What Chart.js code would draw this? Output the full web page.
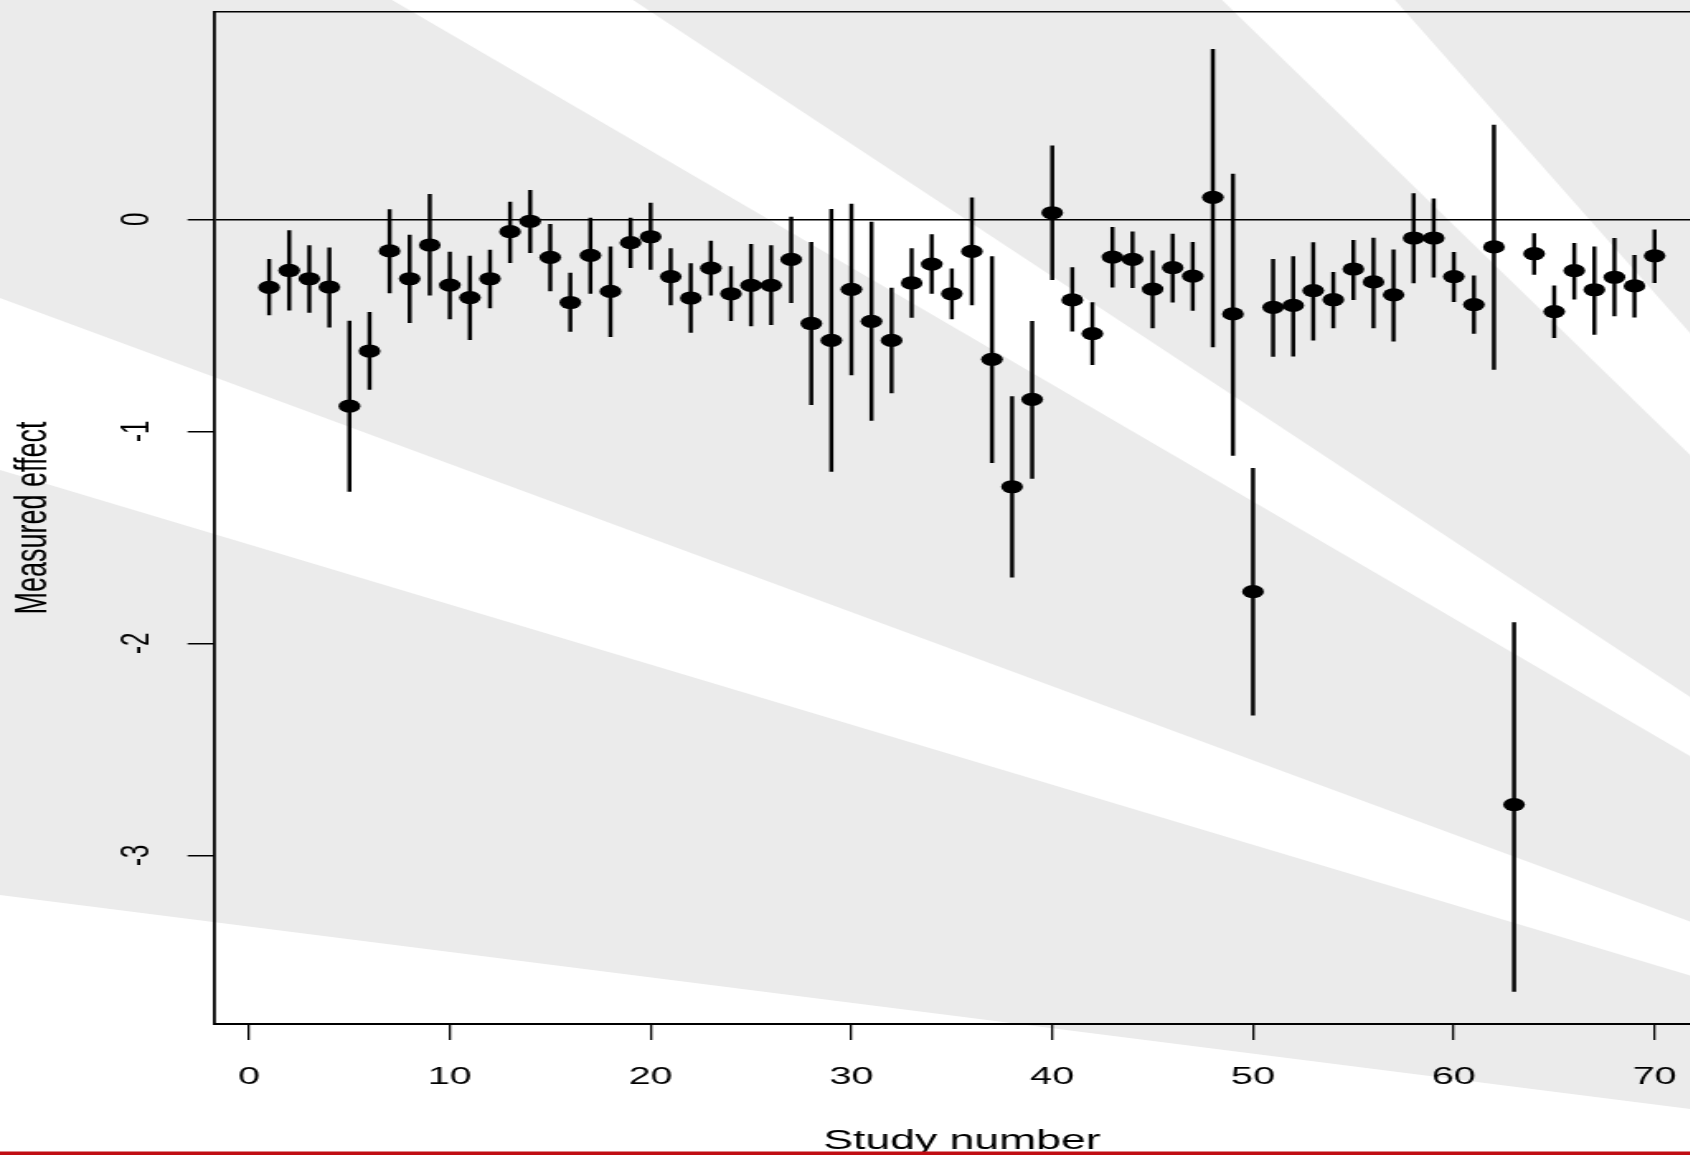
<!DOCTYPE html>
<html>
<head>
<meta charset="utf-8">
<title>Measured effect by study</title>
<script src="https://cdn.jsdelivr.net/npm/chart.js@4.4.1/dist/chart.umd.min.js"></script>
<style>
  html, body { margin: 0; padding: 0; width: 1690px; height: 1155px; overflow: hidden; background: #fff; }
  #wrap { position: absolute; left: 0; top: 0; transform-origin: 0 0; }
</style>
</head>
<body>
<div id="wrap"><canvas id="chart"></canvas></div>
<script>
// values (study, estimate, interval)
const studies = [1, 2, 3, 4, 5, 6, 7, 8, 9, 10, 11, 12, 13, 14, 15, 16, 17, 18, 19, 20,
  21, 22, 23, 24, 25, 26, 27, 28, 29, 30, 31, 32, 33, 34, 35, 36, 37, 38, 39, 40,
  41, 42, 43, 44, 45, 46, 47, 48, 49, 50, 51, 52, 53, 54, 55, 56, 57, 58, 59, 60,
  61, 62, 63, 64, 65, 66, 67, 68, 69, 70];

const effect = [-0.321, -0.241, -0.280, -0.319, -0.881, -0.621, -0.149, -0.280, -0.121, -0.310,
  -0.369, -0.280, -0.058, -0.009, -0.179, -0.392, -0.170, -0.340, -0.110, -0.082,
  -0.270, -0.371, -0.230, -0.351, -0.311, -0.311, -0.189, -0.491, -0.571, -0.330,
  -0.481, -0.571, -0.300, -0.211, -0.351, -0.151, -0.660, -1.261, -0.849, 0.031,
  -0.380, -0.539, -0.178, -0.189, -0.329, -0.228, -0.268, 0.104, -0.446, -1.756,
  -0.415, -0.406, -0.336, -0.379, -0.234, -0.295, -0.356, -0.088, -0.088, -0.270,
  -0.402, -0.130, -2.760, -0.162, -0.435, -0.242, -0.332, -0.273, -0.314, -0.172];

const ciLow = [-0.451, -0.428, -0.439, -0.508, -1.283, -0.802, -0.347, -0.487, -0.357, -0.469,
  -0.568, -0.418, -0.204, -0.157, -0.338, -0.528, -0.349, -0.553, -0.228, -0.236,
  -0.403, -0.533, -0.358, -0.478, -0.503, -0.497, -0.393, -0.874, -1.189, -0.734,
  -0.948, -0.818, -0.462, -0.349, -0.469, -0.403, -1.148, -1.687, -1.222, -0.285,
  -0.527, -0.685, -0.320, -0.322, -0.512, -0.390, -0.430, -0.602, -1.113, -2.339,
  -0.647, -0.645, -0.570, -0.512, -0.379, -0.512, -0.575, -0.300, -0.273, -0.388,
  -0.538, -0.708, -3.641, -0.260, -0.558, -0.376, -0.543, -0.455, -0.461, -0.299];

const ciHigh = [-0.189, -0.053, -0.124, -0.134, -0.480, -0.439, 0.046, -0.074, 0.118, -0.154,
  -0.173, -0.145, 0.082, 0.137, -0.024, -0.253, 0.006, -0.129, 0.006, 0.077,
  -0.138, -0.208, -0.102, -0.223, -0.118, -0.124, 0.011, -0.108, 0.047, 0.072,
  -0.013, -0.324, -0.138, -0.072, -0.233, 0.101, -0.176, -0.836, -0.481, 0.347,
  -0.228, -0.392, -0.038, -0.059, -0.149, -0.070, -0.108, 0.802, 0.214, -1.174,
  -0.189, -0.176, -0.110, -0.250, -0.099, -0.088, -0.144, 0.122, 0.097, -0.155,
  -0.266, 0.445, -1.902, -0.067, -0.314, -0.113, -0.129, -0.090, -0.170, -0.049];

const xTicks = [0, 10, 20, 30, 40, 50, 60, 70];
const yTicks = [-3, -2, -1, 0];

// the source picture was stretched sideways: draw narrow, then stretch the canvas
const STRETCH = 1.65;
const FULL_W = 1725;
const FULL_H = 1155;
const W0 = Math.ceil(FULL_W / STRETCH);
const FONT = "'Liberation Sans', Arial, Helvetica, sans-serif";

// grey backdrop with white rays fanning out from a point right of the picture
const sun = { x: 2464, y: 1207 };
const rays = [
  [[392, 0], [633, 0]],
  [[1222, 0], [1395, 0]],
  [[0, 298], [0, 470]],
  [[0, 895], [0, 1400]]
];

const backdrop = {
  id: 'backdrop',
  beforeDraw(chart) {
    const ctx = chart.ctx;
    ctx.save();
    ctx.scale(1 / STRETCH, 1);
    ctx.fillStyle = '#ebebeb';
    ctx.fillRect(0, 0, FULL_W, FULL_H);
    ctx.fillStyle = '#ffffff';
    const far = p => [sun.x + (p[0] - sun.x) * 4, sun.y + (p[1] - sun.y) * 4];
    rays.forEach(([a, b]) => {
      const pa = far(a);
      const pb = far(b);
      ctx.beginPath();
      ctx.moveTo(sun.x, sun.y);
      ctx.lineTo(pa[0], pa[1]);
      ctx.lineTo(pb[0], pb[1]);
      ctx.closePath();
      ctx.fill();
    });
    ctx.restore();
  },
  afterDraw(chart) {
    // dark red rule along the bottom edge
    const ctx = chart.ctx;
    ctx.save();
    ctx.fillStyle = '#c00d12';
    ctx.fillRect(0, FULL_H - 3.5, W0, 3.5);
    ctx.restore();
  }
};

// no extra label padding: the plot box is placed by hand
const noPad = s => {
  s.paddingTop = 0;
  s.paddingBottom = 0;
  s.paddingLeft = 0;
  s.paddingRight = 0;
};

const canvas = document.getElementById('chart');
canvas.width = W0;
canvas.height = FULL_H;
document.getElementById('wrap').style.transform = `scaleX(${STRETCH})`;

Chart.defaults.font.family = FONT;
Chart.defaults.color = '#000';

new Chart(canvas, {
  type: 'scatter',
  data: {
    datasets: [
      {
        type: 'scatter',
        data: studies.map((x, i) => ({ x, y: effect[i] })),
        pointRadius: 6.6,
        pointHoverRadius: 6.6,
        backgroundColor: '#000',
        borderWidth: 0
      },
      {
        type: 'bar',
        data: studies.map((x, i) => ({ x, y: [ciLow[i], ciHigh[i]] })),
        backgroundColor: '#000',
        barThickness: 1.8,
        borderWidth: 0,
        grouped: false
      }
    ]
  },
  options: {
    responsive: false,
    animation: false,
    devicePixelRatio: 1,
    layout: { padding: { top: 12, right: W0 - 1710 / STRETCH, bottom: 0, left: 0 } },
    plugins: {
      legend: { display: false },
      tooltip: { enabled: false }
    },
    scales: {
      x: {
        type: 'linear',
        position: 'bottom',
        offset: false,
        min: -1.76,
        max: 72.76,
        afterBuildTicks: s => { s.ticks = xTicks.map(v => ({ value: v })); },
        afterFit: s => { s.height = FULL_H - 1024; noPad(s); },
        grid: { offset: false, drawOnChartArea: false, tickLength: 16, lineWidth: 1.3, color: '#000' },
        border: { color: '#000', width: 2 },
        ticks: {
          color: '#000',
          font: { size: 24 },
          padding: 23,
          maxRotation: 0,
          autoSkip: false,
          callback: v => String(v)
        },
        title: {
          display: true,
          text: 'Study number',
          color: '#000',
          font: { size: 27 },
          padding: { top: 0, bottom: -3 }
        }
      },
      xTop: {
        type: 'linear',
        position: 'top',
        offset: false,
        min: -1.76,
        max: 72.76,
        afterFit: s => { s.height = 0; noPad(s); },
        grid: { display: false, drawTicks: false },
        ticks: { display: false },
        border: { display: true, color: '#000', width: 1.5 }
      },
      y: {
        type: 'linear',
        position: 'left',
        min: -3.795,
        max: 0.978,
        afterBuildTicks: s => { s.ticks = yTicks.map(v => ({ value: v })); },
        afterFit: s => { s.width = 213.7 / STRETCH; noPad(s); },
        grid: {
          color: c => (c.tick && c.tick.value === 0 ? '#000' : 'rgba(0,0,0,0)'),
          tickColor: '#000',
          tickLength: 15.8,
          lineWidth: 1.5
        },
        border: { color: '#000', width: 1.8 },
        ticks: {
          color: '#000',
          font: { size: 24 },
          minRotation: 90,
          maxRotation: 90,
          crossAlign: 'center',
          padding: 19.5,
          autoSkip: false,
          callback: v => String(v)
        },
        title: {
          display: true,
          text: 'Measured effect',
          color: '#000',
          font: { size: 27 },
          padding: { top: 4, bottom: 0 }
        }
      }
    }
  },
  plugins: [backdrop]
});
</script>
</body>
</html>
